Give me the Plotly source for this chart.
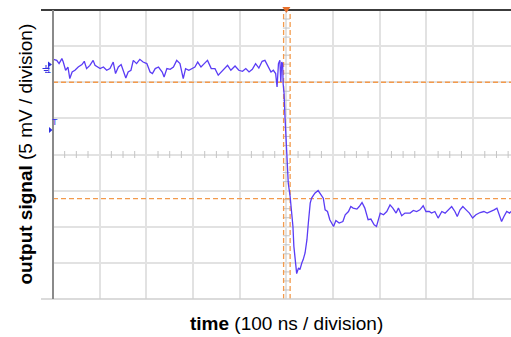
import plotly.graph_objects as go

# Signal: time in ns (100 ns / division), signal in mV (5 mV / division)
time_ns = [1, 8, 13, 19, 22, 27, 32, 36, 41, 47, 54, 62, 67, 72, 79, 86, 90, 96, 101, 108,
           115, 122, 129, 134, 140, 146, 151, 156, 161, 167, 172, 179, 186, 193, 201, 208, 213, 219, 226, 234,
           238, 244, 251, 258, 265, 272, 279, 284, 291, 298, 304, 310, 317, 324, 331, 339, 347, 354, 361, 369,
           374, 381, 390, 398, 406, 413, 420, 427, 434, 441, 448, 454, 461, 467, 472, 477, 480, 483, 486, 488,
           490, 492, 493, 495, 497, 499, 502, 504, 508, 511, 514, 516, 519, 522, 526, 529, 533, 536, 540, 544,
           547, 551, 554, 558, 561, 568, 574, 579, 583, 588, 593, 601, 606, 613, 621, 626, 633, 638, 643, 651,
           656, 662, 668, 675, 681, 688, 693, 701, 708, 715, 722, 728, 735, 740, 747, 754, 761, 765, 772, 779,
           786, 793, 799, 806, 811, 818, 825, 833, 840, 847, 854, 861, 866, 872, 878, 885, 892, 899, 906, 915,
           923, 930, 938, 945, 951, 958, 961, 966, 972, 978, 981]
signal_mv = [13.17, 13.03, 12.58, 13.27, 12.80, 11.66, 12.11, 10.51, 11.42, 11.66, 12.11, 12.44, 12.90, 11.89, 12.34, 13.03, 12.34, 12.11, 11.89, 12.11,
             11.66, 11.89, 12.80, 11.20, 12.11, 12.44, 11.42, 10.59, 11.42, 11.66, 13.03, 12.58, 13.17, 12.80, 12.58, 11.42, 11.20, 11.89, 12.11, 11.42,
             10.73, 11.89, 11.79, 12.11, 13.03, 12.58, 10.51, 11.89, 11.66, 11.89, 12.11, 12.80, 12.11, 12.58, 13.03, 11.89, 11.89, 10.97, 11.42, 11.89,
             12.34, 11.66, 12.25, 11.66, 11.52, 11.89, 11.42, 11.79, 12.58, 11.97, 12.90, 13.03, 12.25, 11.42, 11.66, 11.20, 9.35, 12.58, 13.03, 10.04,
             12.80, 12.58, 9.82, 8.44, 5.21, 2.00, -1.68, -3.97, -5.82, -7.66, -9.96, -12.72, -15.01, -16.48, -15.70, -15.93, -15.01, -14.55, -13.63, -11.79,
             -9.49, -6.73, -6.04, -5.59, -5.35, -4.99, -5.59, -6.04, -7.66, -7.89, -9.03, -9.96, -9.13, -9.49, -9.27, -8.34, -7.89, -7.20, -7.42, -7.56,
             -7.20, -6.65, -7.42, -9.03, -8.94, -9.72, -9.96, -8.11, -8.34, -7.89, -6.97, -7.42, -8.11, -7.42, -8.48, -8.11, -8.11, -8.11, -7.75, -7.89,
             -7.66, -7.10, -7.89, -7.89, -8.11, -7.89, -8.80, -7.89, -8.11, -7.66, -7.20, -7.89, -8.58, -7.66, -7.20, -7.66, -8.11, -8.80, -8.34, -8.03,
             -7.89, -8.11, -7.89, -7.66, -7.42, -8.58, -9.27, -8.58, -7.89, -8.11, -7.89]

# Cursors
cursor_h_mv = [10.0, -6.1]
cursor_v_ns = [494, 508]
trigger_ns = 500

x_title = "<b>time</b> (100 ns / division)"
y_title = "<b>output signal</b> (5 mV / division)"

W, H = 511, 337
PL, PT, PB = 53, 10, 299          # plot area in page pixels (left, top, bottom)
PW, PH = W - PL, PB - PT
NS_PER_PX = 100 / 46.68


def pxx(p):
    return (p - PL) / PW


def pxy(p):
    return (PB - p) / PH


def tri(points):
    return "M " + " L ".join(f"{pxx(a):.5f},{pxy(b):.5f}" for a, b in points) + " Z"


ORANGE = "#f39a4c"
BLUE = "#5a3cf5"
GRID = "#e2e2e2"
TICK = "#c4c4c4"
MARK = "#3030e0"

fig = go.Figure()

# minor ticks on the centre cross
xt = [500 + 25 * k for k in range(-20, 21) if k % 4 != 0]
yt = [1.25 * k for k in range(-16, 17) if k % 4 != 0]
fig.add_trace(go.Scatter(x=xt, y=[0] * len(xt), mode="markers", hoverinfo="skip",
                         marker=dict(symbol="line-ns-open", size=5, color=TICK, line=dict(color=TICK, width=1))))
fig.add_trace(go.Scatter(x=[500] * len(yt), y=yt, mode="markers", hoverinfo="skip",
                         marker=dict(symbol="line-ew-open", size=5, color=TICK, line=dict(color=TICK, width=1))))

# cursors
for v in cursor_h_mv:
    fig.add_trace(go.Scatter(x=[0, 1000], y=[v, v], mode="lines", hoverinfo="skip",
                             line=dict(color=ORANGE, width=1.3, dash="5px,3px")))
for v in cursor_v_ns:
    fig.add_trace(go.Scatter(x=[v, v], y=[-20, 20], mode="lines", hoverinfo="skip",
                             line=dict(color=ORANGE, width=1.3, dash="5px,3px")))

# signal
fig.add_trace(go.Scatter(x=time_ns, y=signal_mv, mode="lines",
                         line=dict(color=BLUE, width=1.3)))

trig_px = PL + trigger_ns / NS_PER_PX

shapes = [
    dict(type="line", xref="paper", yref="paper", x0=pxx(41), x1=1, y0=1, y1=1,
         line=dict(color="#3c3c3c", width=2)),
    dict(type="line", xref="paper", yref="paper", x0=pxx(41), x1=1, y0=0, y1=0,
         line=dict(color="#cfcfcf", width=1.5)),
    dict(type="line", xref="paper", yref="paper", x0=0, x1=0, y0=0, y1=1,
         line=dict(color="#8a8a8a", width=2)),
    # trigger position marker
    dict(type="path", xref="paper", yref="paper", path=tri([(trig_px - 4, 7), (trig_px + 4, 7), (trig_px, 13)]),
         fillcolor="#e8702a", line=dict(width=0)),
    # channel 1 and trigger level arrows
    dict(type="path", xref="paper", yref="paper", path=tri([(48, 61.5), (52, 64.5), (48, 67.5)]),
         fillcolor=MARK, line=dict(width=0)),
    dict(type="path", xref="paper", yref="paper", path=tri([(49, 127), (52.5, 130), (49, 133)]),
         fillcolor=MARK, line=dict(width=0)),
    # ground symbol for channel 1
    dict(type="line", xref="paper", yref="paper", x0=pxx(46), x1=pxx(46), y0=pxy(65), y1=pxy(68.5),
         line=dict(color=MARK, width=1)),
    dict(type="line", xref="paper", yref="paper", x0=pxx(42.5), x1=pxx(49.5), y0=pxy(68.5), y1=pxy(68.5),
         line=dict(color=MARK, width=1)),
    dict(type="line", xref="paper", yref="paper", x0=pxx(43.8), x1=pxx(48.2), y0=pxy(70.5), y1=pxy(70.5),
         line=dict(color=MARK, width=1)),
    dict(type="line", xref="paper", yref="paper", x0=pxx(45), x1=pxx(47), y0=pxy(72.3), y1=pxy(72.3),
         line=dict(color=MARK, width=1)),
]

annotations = [
    dict(text=x_title, xref="x", x=500, yref="paper", y=0, yanchor="middle", yshift=-24,
         showarrow=False, font=dict(size=19, color="black")),
    dict(text=y_title, xref="paper", x=0, xanchor="center", xshift=-28, yref="y", y=0,
         textangle=-90, showarrow=False, font=dict(size=19, color="black")),
    dict(text="1", xref="paper", x=pxx(43.5), yref="paper", y=pxy(62.5), showarrow=False,
         font=dict(size=9, color=MARK)),
    dict(text="T", xref="paper", x=pxx(49.5), yref="paper", y=pxy(122.5), showarrow=False,
         font=dict(size=9, color=MARK)),
]

fig.update_layout(
    width=W, height=H,
    margin=dict(l=PL, r=0, t=PT, b=H - PB, autoexpand=False),
    paper_bgcolor="white", plot_bgcolor="white", showlegend=False,
    font=dict(family="Liberation Sans, Arial, sans-serif"),
    shapes=shapes, annotations=annotations,
    xaxis=dict(range=[0, PW * NS_PER_PX], dtick=100, tick0=0,
               showgrid=True, gridcolor=GRID, gridwidth=1.5, zeroline=False,
               showticklabels=False, ticks="", showline=False, fixedrange=True),
    yaxis=dict(range=[-20, 20], dtick=5, tick0=0, showgrid=True, gridcolor=GRID, gridwidth=1.5,
               zeroline=False, showticklabels=False, ticks="", showline=False, fixedrange=True),
)

fig.write_html("out.html", config={"displayModeBar": False},
               post_script="document.body.style.margin='0';document.body.style.overflow='hidden';")
